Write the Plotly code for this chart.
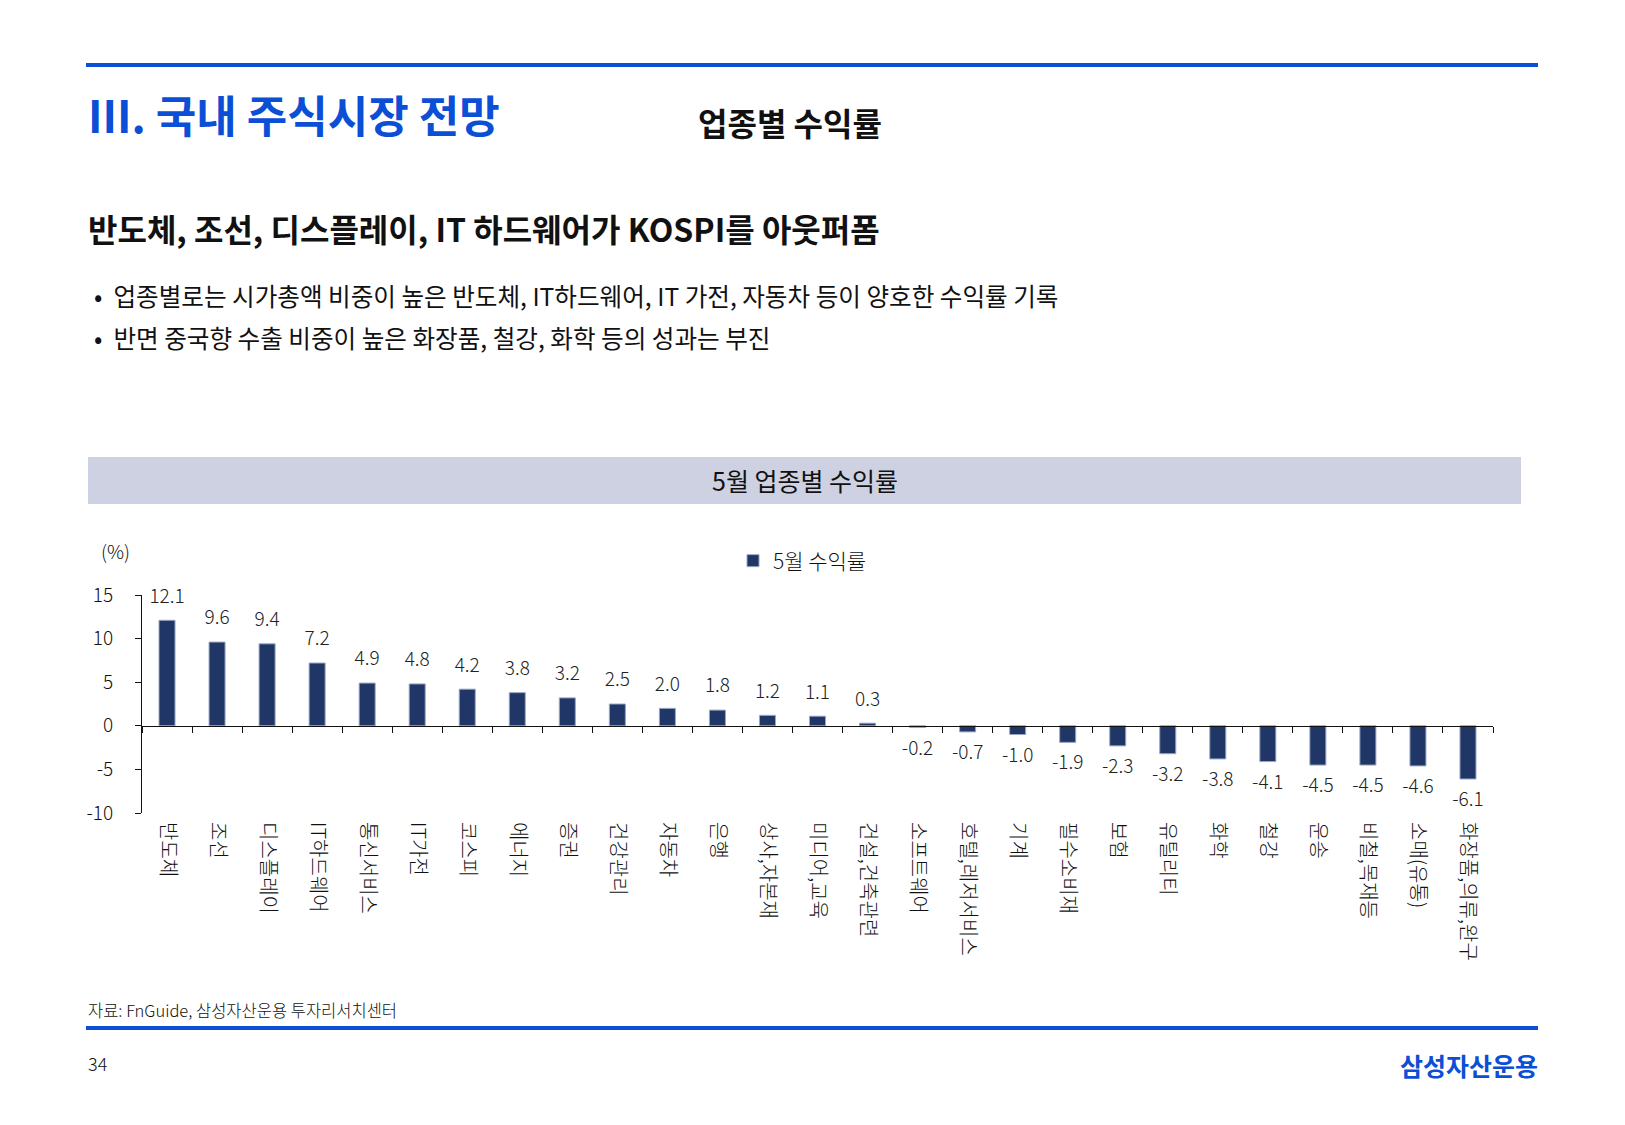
import plotly.graph_objects as go

W, H = 1625, 1125
OFF = 8  # page body margin of the html page

categories = ["반도체", "조선", "디스플레이", "IT하드웨어", "통신서비스", "IT가전", "코스피",
              "에너지", "증권", "건강관리", "자동차", "은행", "상사,자본재", "미디어,교육",
              "건설,건축관련", "소프트웨어", "호텔,레저서비스", "기계", "필수소비재", "보험",
              "유틸리티", "화학", "철강", "운송", "비철,목재등", "소매(유통)", "화장품,의류,완구"]
returns_may = [12.1, 9.6, 9.4, 7.2, 4.9, 4.8, 4.2, 3.8, 3.2, 2.5, 2.0, 1.8, 1.2, 1.1, 0.3,
               -0.2, -0.7, -1.0, -1.9, -2.3, -3.2, -3.8, -4.1, -4.5, -4.5, -4.6, -6.1]
y_ticks = [15, 10, 5, 0, -5, -10]

FONT = "Noto Sans CJK KR"
BLUE = "#0b4fd6"
NAVY = "#1f3667"


def px(x):
    return (x - OFF) / W


def py(y):
    return 1 - (y - OFF) / H


# plot area in page pixels
x0, x1 = 142, 1493
y_top, y_bot = 595, 813
ymin, ymax = -10, 15
zero_pos = py(y_bot) + (py(y_top) - py(y_bot)) * (0 - ymin) / (ymax - ymin)
xrange = [-0.5, len(categories) - 0.5]

fig = go.Figure()
fig.add_trace(go.Bar(
    x=categories, y=returns_may, name="5월 수익률",
    marker=dict(color=NAVY, line=dict(color="#9aa6c2", width=1)),
    width=0.32, showlegend=True, hoverinfo="x+y"))

labels = [f"{v:.1f}" for v in returns_may]
fig.add_trace(go.Scatter(
    x=categories, y=returns_may, xaxis="x2", mode="markers+text", text=labels,
    textposition=["top center" if v >= 0 else "bottom center" for v in returns_may],
    marker=dict(size=19, opacity=0),
    textfont=dict(family=FONT, size=19, color="#222222", weight=300),
    showlegend=False, cliponaxis=False, hoverinfo="skip"))

fig.update_layout(
    width=W, height=H,
    margin=dict(l=0, r=0, t=0, b=0),
    paper_bgcolor="white", plot_bgcolor="white",
    font=dict(family=FONT, color="#111111"),
    xaxis=dict(domain=[px(x0), px(x1)], type="category", range=xrange,
               showline=False, showgrid=False, zeroline=False, ticks="",
               tickangle=90, ticklabelstandoff=8, automargin=False,
               tickfont=dict(family=FONT, size=20, color="#111111", weight=300)),
    xaxis2=dict(domain=[px(x0), px(x1)], type="category", overlaying="x",
                anchor="free", position=zero_pos, range=xrange,
                tickson="boundaries", ticks="outside", ticklen=6,
                tickcolor="#111111", showticklabels=False, showgrid=False,
                showline=True, linecolor="#111111", linewidth=1,
                zeroline=False, automargin=False),
    yaxis=dict(domain=[py(y_bot), py(y_top)], range=[ymin, ymax],
               tickvals=y_ticks, ticktext=[str(v) for v in y_ticks],
               ticks="outside", ticklen=6, tickcolor="#111111",
               showline=True, linecolor="#111111", linewidth=1,
               showgrid=False, zeroline=False, ticklabelstandoff=18,
               automargin=False,
               tickfont=dict(family=FONT, size=19, color="#111111", weight=300)),
    legend=dict(x=px(733), y=py(561), xanchor="left", yanchor="middle",
                orientation="h", itemwidth=30, bgcolor="rgba(0,0,0,0)",
                font=dict(family=FONT, size=21, color="#111111", weight=300)),
)

# page decoration
fig.add_shape(type="rect", xref="paper", yref="paper", x0=px(86), x1=px(1538),
              y0=py(67), y1=py(63), fillcolor=BLUE, line_width=0)
fig.add_shape(type="rect", xref="paper", yref="paper", x0=px(86), x1=px(1538),
              y0=py(1030), y1=py(1026), fillcolor=BLUE, line_width=0)
fig.add_shape(type="rect", xref="paper", yref="paper", x0=px(88), x1=px(1521),
              y0=py(504), y1=py(457), fillcolor="#cdd1e2", line_width=0, layer="below")


def note(text, x, y, size, color="#111111", weight=400, xanchor="left"):
    fig.add_annotation(text=text, x=px(x), y=py(y), xref="paper", yref="paper",
                       xanchor=xanchor, yanchor="middle", showarrow=False,
                       font=dict(family=FONT, size=size, color=color, weight=weight))


note("III. 국내 주식시장 전망", 86, 114, 44, BLUE, 700)
note("업종별 수익률", 696, 122, 32, "#111111", 700)
note("반도체, 조선, 디스플레이, IT 하드웨어가 KOSPI를 아웃퍼폼", 86, 228, 32, "#111111", 700)
note("•  업종별로는 시가총액 비중이 높은 반도체, IT하드웨어, IT 가전, 자동차 등이 양호한 수익률 기록",
     92, 295, 24.6)
note("•  반면 중국향 수출 비중이 높은 화장품, 철강, 화학 등의 성과는 부진", 92, 337, 24.6)
note("5월 업종별 수익률", 805, 480, 25, "#111111", 400, "center")
note("(%)", 99, 550, 19, "#111111", 300)
note("자료: FnGuide, 삼성자산운용 투자리서치센터", 86, 1010, 16.5, "#111111", 300)
note("34", 86, 1063, 18, "#111111", 300)
note("삼성자산운용", 1540, 1065, 25, BLUE, 700, "right")

fig.write_html("out.html")
